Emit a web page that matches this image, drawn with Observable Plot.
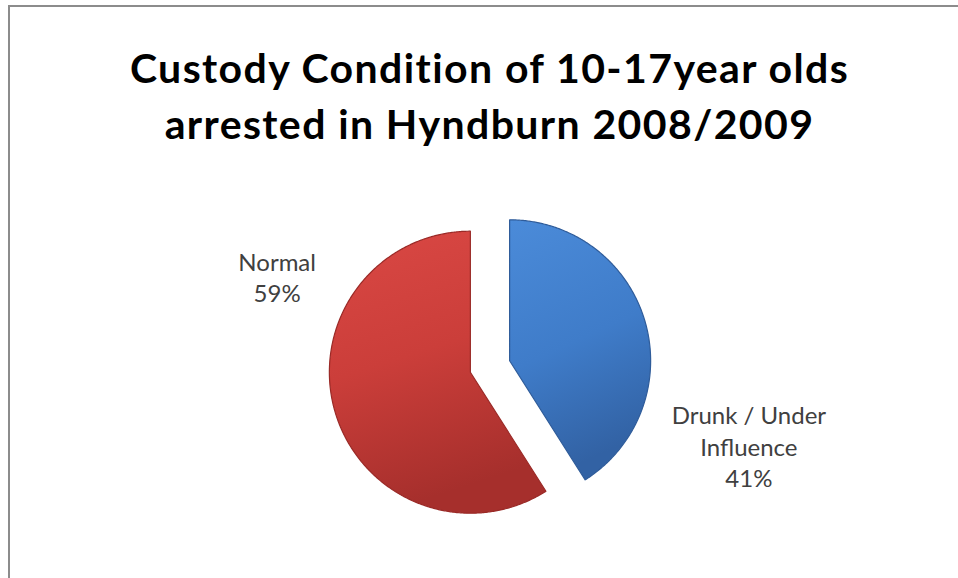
<!DOCTYPE html>
<html><head><meta charset="utf-8">
<script src="https://cdn.jsdelivr.net/npm/d3@7"></script>
<script src="https://cdn.jsdelivr.net/npm/@observablehq/plot@0.6"></script>
<style>
html,body{margin:0;padding:0;background:#fff;width:958px;height:578px;overflow:hidden}
#frame{position:absolute;left:8px;top:5px;width:1200px;height:1200px;border:2px solid #8c8c8c;box-sizing:border-box}
#chart{position:absolute;left:0;top:0}
#chart g[font-weight="bold"], #chart g[font-weight="bold"] text{letter-spacing:1.4px}
</style></head><body>
<div id="frame"></div>
<div id="chart"></div>
<script>
// ---- data ----
const categories = ["Drunk / Under Influence", "Normal"];
const values = [41, 59];
const labelText = ["Drunk / Under\nInfluence\n41%", "Normal\n59%"];
const titleLines = ["Custody Condition of 10-17year olds", "arrested in Hyndburn 2008/2009"];

// ---- layout (pixels / styles) ----
const W = 958, H = 578;
const R = 141, CX = 489.5, CY = 366;      // pie radius & centre in px
const explode = 0.145;                     // in radius units
const labelPlace = {                       // angle (deg, clockwise from 12) & distance (radius units)
  "Drunk / Under Influence": {a: 107, r: 1.92},
  "Normal": {a: 293, r: 1.64}
};
const titleBaselines = [82, 138];
const fills = {"Drunk / Under Influence": "url(#gBlue)", "Normal": "url(#gRed)"};
const strokes = {"Drunk / Under Influence": "#2f5c9a", "Normal": "#9a2a27"};

const rows = categories.map((c, i) => ({category: c, value: values[i], label: labelText[i]}));
const arcs = d3.pie().sort(null).value(d => d.value)(rows);

const slices = arcs.map(a => {
  const mid = (a.startAngle + a.endAngle) / 2;
  const ox = explode * Math.sin(mid), oy = explode * Math.cos(mid);
  const pts = [{x: ox, y: oy}];
  const n = Math.max(2, Math.ceil((a.endAngle - a.startAngle) / (Math.PI / 360)));
  for (let k = 0; k <= n; k++) {
    const t = a.startAngle + (a.endAngle - a.startAngle) * k / n;
    pts.push({x: ox + Math.sin(t), y: oy + Math.cos(t)});
  }
  return {category: a.data.category, pts};
});

const labels = rows.map(d => {
  const p = labelPlace[d.category], t = p.a * Math.PI / 180;
  return {...d, x: p.r * Math.sin(t), y: p.r * Math.cos(t)};
});

const plot = Plot.plot({
  width: W, height: H,
  margin: 0,
  x: {domain: [-CX / R, (W - CX) / R], range: [0, W], axis: null},
  y: {domain: [(CY - H) / R, CY / R], range: [H, 0], axis: null},
  marks: [
    ...slices.map(s => Plot.line(s.pts, {
      x: "x", y: "y", curve: "linear-closed",
      fill: fills[s.category], stroke: strokes[s.category], strokeWidth: 1.2
    })),
    Plot.text(labels, {
      x: "x", y: "y", text: "label", lineHeight: 1.3,
      fontSize: 24, fill: "#404040", fontFamily: "Lato", textAnchor: "middle"
    }),
    ...titleLines.map((t, i) => Plot.text([t], {
      frameAnchor: "top", lineAnchor: "bottom", dx: 10, dy: titleBaselines[i],
      fontSize: 41, fontWeight: "bold", fill: "#000", fontFamily: "Lato"
    }))
  ]
});

const svg = d3.select(plot);
const defs = svg.insert("defs", ":first-child");
function grad(id, stops) {
  const g = defs.append("linearGradient").attr("id", id)
    .attr("x1", 0).attr("y1", 0).attr("x2", 0.25).attr("y2", 1);
  stops.forEach(([o, c]) => g.append("stop").attr("offset", o).attr("stop-color", c));
}
grad("gBlue", [[0, "#4b8bd9"], [0.55, "#3f7cc9"], [1, "#3262a4"]]);
grad("gRed", [[0, "#da4844"], [0.5, "#cb3e3a"], [1, "#a62f2c"]]);

document.getElementById("chart").appendChild(plot);
</script>
</body></html>
